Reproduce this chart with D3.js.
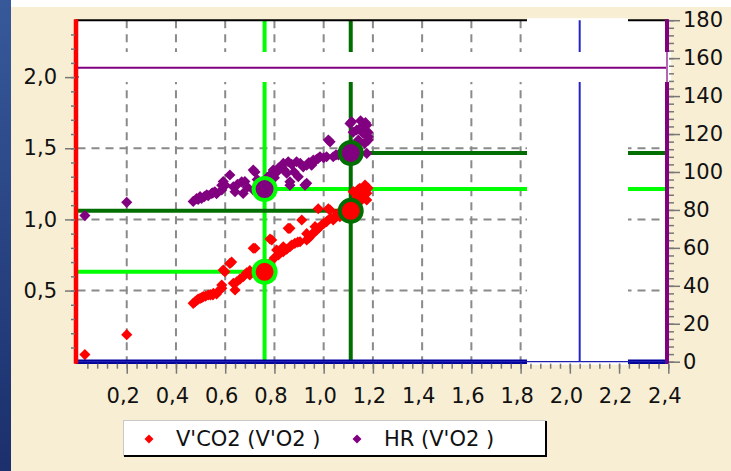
<!DOCTYPE html>
<html>
<head>
<meta charset="utf-8">
<script src="https://cdn.jsdelivr.net/npm/d3@7"></script>
<style>
  html, body { margin: 0; padding: 0; background: #ffffff; }
  svg { display: block; }
  text { font-family: "DejaVu Sans", sans-serif; font-size: 21px; fill: #111; }
</style>
</head>
<body>
<svg id="chart" width="731" height="471"></svg>
<script>
// V'CO2 against V'O2 (L/min)
const vco2VO2 = [0.03, 0.20, 0.47, 0.477, 0.484, 0.498, 0.511, 0.52, 0.531, 0.55, 0.552, 0.565, 0.586, 0.586, 0.592, 0.599,
  0.619, 0.626, 0.633, 0.64, 0.647, 0.673, 0.687, 0.70, 0.714, 0.721, 0.74, 0.76, 0.78, 0.782, 0.789, 0.80, 0.809, 0.816,
  0.836, 0.836, 0.85, 0.856, 0.863, 0.863, 0.883, 0.904, 0.911, 0.931, 0.931, 0.951, 0.965, 0.972, 0.978, 0.992, 1.012,
  1.019, 1.026, 1.026, 1.039, 1.06, 1.066, 1.09, 1.12, 1.134, 1.134, 1.147, 1.15, 1.154, 1.161, 1.168, 1.17, 1.175, 1.175, 1.18,
  0.49, 0.505, 0.54, 0.575, 0.66, 0.70, 0.73, 0.75, 0.82, 0.87, 0.895, 0.94, 0.96, 0.98, 1.0, 1.05, 1.075, 1.16, 1.14];
const vco2Values = [0.05, 0.19, 0.41, 0.42, 0.43, 0.445, 0.457, 0.46, 0.469, 0.47, 0.48, 0.476, 0.516, 0.539, 0.644, 0.632,
  0.69, 0.70, 0.551, 0.504, 0.562, 0.597, 0.625, 0.64, 0.797, 0.797, 0.67, 0.66, 0.69, 0.862, 0.855, 0.73, 0.785, 0.75,
  0.773, 0.808, 0.79, 0.937, 0.808, 0.937, 0.832, 0.843, 0.996, 0.855, 0.90, 0.89, 0.949, 0.925, 1.075, 0.961, 0.984,
  1.075, 1.008, 1.066, 0.996, 1.043, 1.019, 1.04, 1.195, 1.195, 1.148, 1.218, 1.17, 1.136, 1.218, 1.242, 1.20, 1.183, 1.136, 1.22,
  0.44, 0.45, 0.47, 0.50, 0.58, 0.61, 0.645, 0.655, 0.76, 0.82, 0.84, 0.87, 0.91, 0.94, 0.97, 1.03, 1.03, 1.19, 1.21];

// HR against V'O2
const hrVO2 = [0.03, 0.20, 0.47, 0.484, 0.498, 0.504, 0.525, 0.531, 0.545, 0.558, 0.565, 0.586, 0.586, 0.592, 0.619, 0.633,
  0.64, 0.667, 0.673, 0.68, 0.714, 0.714, 0.721, 0.74, 0.77, 0.789, 0.795, 0.80, 0.816, 0.829, 0.836, 0.85, 0.856, 0.863,
  0.863, 0.89, 0.897, 0.917, 0.924, 0.931, 0.931, 0.951, 0.958, 0.978, 0.985, 1.012, 1.019, 1.026, 1.039, 1.06, 1.08,
  1.09, 1.107, 1.114, 1.134, 1.141, 1.141, 1.154, 1.161, 1.167, 1.175, 1.175, 1.181, 1.181,
  0.49, 0.515, 0.55, 0.60, 0.65, 0.69, 0.73, 0.81, 0.84, 0.87, 0.88, 0.905, 0.94, 0.97, 1.0, 1.05, 1.10, 1.12, 1.15, 1.17, 1.165, 1.18];
const hrValues = [77, 84, 84.5, 86, 87, 86, 88, 87.5, 88.7, 89.6, 88.5, 90.5, 93, 95, 98.4, 92.2,
  89.6, 94.8, 88.7, 95, 101, 90.5, 100, 93, 97, 99.3, 101, 97, 102, 102.7, 104.5, 99.3, 105.4, 94.8,
  93, 105.4, 97.5, 102.7, 93.1, 94, 103.6, 103.6, 106.3, 107.2, 108, 108, 116.8, 115.9, 108, 109, 109.8,
  110, 125.6, 126.5, 122.1, 116.8, 115.1, 123.8, 120.3, 115.1, 124.7, 109.8, 118.6, 116.8,
  85.5, 87, 89, 93, 93.5, 92, 96, 100, 101, 104, 100, 104.5, 105, 106.5, 107.5, 109, 111, 121, 127, 126, 122, 121];

// Thresholds: first (VT1) and second (VT2)
const thresholdVO2 = [0.76, 1.11];
const thresholdVCO2 = [0.632, 1.06];
const thresholdHR = [91, 110];
const thresholdColors = ["#00ff00", "#006e00"];
const hrMax = 155;
const vo2Max = 2.04;

// Tick labels
const xTicks = [0.2, 0.4, 0.6, 0.8, 1.0, 1.2, 1.4, 1.6, 1.8, 2.0, 2.2, 2.4];
const yLeftTicks = [0.5, 1.0, 1.5, 2.0];
const yRightTicks = [0, 20, 40, 60, 80, 100, 120, 140, 160, 180];
const legendLabels = ["V'CO2 (V'O2 )", "HR (V'O2 )"];
const seriesColors = ["#ff0000", "#800080"];

const svg = d3.select("#chart");
const W = 731, H = 471;
const plot = { left: 77.5, right: 668.3, top: 20.2, bottom: 361.7 };

const x = d3.scaleLinear().domain([0, 2.4]).range([plot.left, plot.right]);
const yL = d3.scaleLinear().domain([0, 2.4]).range([plot.bottom, plot.top]);
const yR = d3.scaleLinear().domain([0, 180]).range([plot.bottom, plot.top]);
const fmt = v => d3.format(".1f")(v).replace(".", ",");

// Frame: blue strip, white top strip, beige panel
const defs = svg.append("defs");
const grad = defs.append("linearGradient").attr("id", "strip").attr("x1", 0).attr("y1", 0).attr("x2", 0).attr("y2", 1);
grad.append("stop").attr("offset", 0).attr("stop-color", "#37599a");
grad.append("stop").attr("offset", 1).attr("stop-color", "#1b2f6c");
svg.append("rect").attr("width", W).attr("height", H).attr("fill", "#ffffff");
svg.append("rect").attr("x", 0).attr("y", 0).attr("width", 11).attr("height", H).attr("fill", "url(#strip)");
svg.append("rect").attr("x", 11).attr("y", 7).attr("width", W - 11).attr("height", H - 7).attr("fill", "#f8eed4");

// Plot area
svg.append("rect").attr("x", plot.left - 2).attr("y", plot.top).attr("width", plot.right - plot.left + 2)
  .attr("height", plot.bottom - plot.top).attr("fill", "#ffffff");

// Dashed grid
const grid = svg.append("g").attr("stroke", "#8a8a8a").attr("stroke-width", 2).attr("stroke-dasharray", "8,6");
grid.selectAll("line.v").data(xTicks.slice(0, -1)).join("line")
  .attr("x1", d => x(d)).attr("x2", d => x(d)).attr("y1", plot.top).attr("y2", plot.bottom);
grid.selectAll("line.h").data(yLeftTicks).join("line")
  .attr("x1", plot.left).attr("x2", plot.right).attr("y1", d => yL(d)).attr("y2", d => yL(d));

// Threshold cross-hairs
const thr = svg.append("g").attr("stroke-width", 4);
thresholdVO2.forEach((v, i) => {
  const c = thresholdColors[i];
  thr.append("line").attr("stroke", c).attr("x1", x(v)).attr("x2", x(v)).attr("y1", plot.top).attr("y2", plot.bottom);
  thr.append("line").attr("stroke", c).attr("x1", plot.left).attr("x2", x(v))
    .attr("y1", yL(thresholdVCO2[i])).attr("y2", yL(thresholdVCO2[i]));
  thr.append("line").attr("stroke", c).attr("x1", x(v)).attr("x2", plot.right)
    .attr("y1", yR(thresholdHR[i])).attr("y2", yR(thresholdHR[i]));
});

// Scatter markers
const diamond = d3.symbol(d3.symbolSquare, 62);
const pts = svg.append("g");
pts.selectAll("path.co2").data(d3.zip(vco2VO2, vco2Values)).join("path")
  .attr("d", diamond).attr("fill", seriesColors[0])
  .attr("transform", d => `translate(${x(d[0])},${yL(d[1])}) rotate(45)`);
pts.selectAll("path.hr").data(d3.zip(hrVO2, hrValues)).join("path")
  .attr("d", diamond).attr("fill", seriesColors[1])
  .attr("transform", d => `translate(${x(d[0])},${yR(d[1])}) rotate(45)`);

// Threshold points
thresholdVO2.forEach((v, i) => {
  svg.append("circle").attr("cx", x(v)).attr("cy", yL(thresholdVCO2[i])).attr("r", 11)
    .attr("fill", seriesColors[0]).attr("stroke", thresholdColors[i]).attr("stroke-width", 4);
  svg.append("circle").attr("cx", x(v)).attr("cy", yR(thresholdHR[i])).attr("r", 11)
    .attr("fill", seriesColors[1]).attr("stroke", thresholdColors[i]).attr("stroke-width", 4);
});

// Thick axis lines (top, bottom, right)
svg.append("line").attr("x1", plot.left - 2).attr("x2", plot.right).attr("y1", plot.top).attr("y2", plot.top)
  .attr("stroke", "#000").attr("stroke-width", 2);
svg.append("line").attr("x1", plot.left - 2).attr("x2", plot.right).attr("y1", plot.bottom).attr("y2", plot.bottom)
  .attr("stroke", "#00009c").attr("stroke-width", 4.5);
svg.append("line").attr("x1", 667).attr("x2", 667).attr("y1", plot.top - 1).attr("y2", plot.bottom + 2)
  .attr("stroke", "#800080").attr("stroke-width", 4);

// Vertical blank band
svg.append("rect").attr("x", 527).attr("y", plot.top - 2).attr("width", 101).attr("height", plot.bottom - plot.top + 5)
  .attr("fill", "#ffffff");
svg.append("line").attr("x1", plot.left).attr("x2", plot.right).attr("y1", plot.bottom).attr("y2", plot.bottom)
  .attr("stroke", "#2020b0").attr("stroke-width", 1.2);

// V'O2 max marker
svg.append("line").attr("x1", x(vo2Max)).attr("x2", x(vo2Max)).attr("y1", plot.top).attr("y2", plot.bottom)
  .attr("stroke", "#2323c8").attr("stroke-width", 2);

// Horizontal blank band
svg.append("rect").attr("x", 79).attr("y", 52).attr("width", 592).attr("height", 30).attr("fill", "#ffffff");
svg.append("line").attr("x1", 667).attr("x2", 667).attr("y1", plot.top).attr("y2", plot.bottom)
  .attr("stroke", "#800080").attr("stroke-width", 1.2);

// Left axis line
svg.append("line").attr("x1", 76).attr("x2", 76).attr("y1", plot.top - 1).attr("y2", plot.bottom + 2)
  .attr("stroke", "#ff0000").attr("stroke-width", 4.5);

// HR max line
svg.append("line").attr("x1", 78).attr("x2", 666).attr("y1", yR(hrMax)).attr("y2", yR(hrMax))
  .attr("stroke", "#800080").attr("stroke-width", 2);

// Axes with ticks
function styleAxis(g) {
  g.select(".domain").remove();
  g.selectAll(".tick line").attr("stroke", "#777").attr("stroke-width", 1.5);
  g.selectAll(".tick text").attr("fill", "#111").style("font-family", "DejaVu Sans").style("font-size", "21px");
}
svg.append("g").attr("transform", `translate(0,${plot.bottom + 2})`)
  .call(d3.axisBottom(x).tickValues(d3.range(1, 61).map(i => i * 0.04)).tickSize(5).tickFormat(""))
  .call(styleAxis);
svg.append("g").attr("transform", `translate(0,${plot.bottom + 2})`)
  .call(d3.axisBottom(x).tickValues(xTicks).tickSize(10).tickPadding(14).tickFormat(fmt))
  .call(styleAxis)
  .selectAll(".tick text").attr("dx", -4);

svg.append("g").attr("transform", "translate(75,0)")
  .call(d3.axisLeft(yL).tickValues(d3.range(1, 24).map(i => i * 0.1)).tickSize(4).tickFormat(""))
  .call(styleAxis);
svg.append("g").attr("transform", "translate(75,0)")
  .call(d3.axisLeft(yL).tickValues(yLeftTicks).tickSize(10).tickPadding(8).tickFormat(fmt))
  .call(styleAxis);

svg.append("g").attr("transform", "translate(669,0)")
  .call(d3.axisRight(yR).tickValues(d3.range(0, 46).map(i => i * 4)).tickSize(5).tickFormat(""))
  .call(styleAxis);
svg.append("g").attr("transform", "translate(669,0)")
  .call(d3.axisRight(yR).tickValues(yRightTicks).tickSize(11).tickPadding(3).tickFormat(d3.format("d")))
  .call(styleAxis);

// Legend
const lg = svg.append("g");
lg.append("rect").attr("x", 123.5).attr("y", 420.5).attr("width", 422).attr("height", 35)
  .attr("fill", "#ffffff").attr("stroke", "#c8c8c8").attr("stroke-width", 1);
lg.append("line").attr("x1", 124).attr("x2", 547).attr("y1", 456).attr("y2", 456).attr("stroke", "#000").attr("stroke-width", 2);
lg.append("line").attr("x1", 546).attr("x2", 546).attr("y1", 421).attr("y2", 457).attr("stroke", "#000").attr("stroke-width", 2);
const legendX = [149, 357];
legendLabels.forEach((t, i) => {
  lg.append("path").attr("d", d3.symbol(d3.symbolSquare, 40)).attr("fill", seriesColors[i])
    .attr("transform", `translate(${legendX[i]},439) rotate(45)`);
  lg.append("text").attr("x", legendX[i] + 27).attr("y", 446).text(t);
});
</script>
</body>
</html>
